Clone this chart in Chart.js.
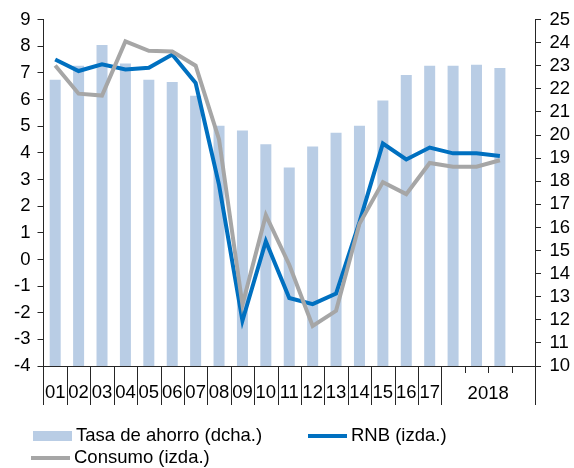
<!doctype html>
<html lang="es">
<head>
<meta charset="utf-8">
<title>Tasa de ahorro, RNB y consumo</title>
<script src="https://cdn.jsdelivr.net/npm/chart.js"></script>
<style>
  html, body { margin: 0; padding: 0; background: #fff; }
  .wrap { position: relative; width: 574px; height: 468px; font-family: "Liberation Sans", Arial, sans-serif; font-size: 18.5px; color: #000; }
  canvas { position: absolute; left: 0; top: 0; }
  .lg { position: absolute; display: flex; align-items: center; white-space: nowrap; line-height: 20px; }
  .lg .box { width: 39px; height: 10px; background: #b9cde5; margin: 2px 4px 0 0; }
  .lg .line { width: 39px; height: 4px; margin: 2px 4px 0 0; }
</style>
</head>
<body>
<div class="wrap">
  <canvas id="chart" width="574" height="468"></canvas>
  <div class="lg" style="left:33px; top:425px;"><span class="box"></span>Tasa de ahorro (dcha.)</div>
  <div class="lg" style="left:308px; top:425px;"><span class="line" style="background:#0070c0"></span>RNB (izda.)</div>
  <div class="lg" style="left:31px; top:447px;"><span class="line" style="background:#a6a6a6"></span>Consumo (izda.)</div>
</div>
<script>
const categories = ['01', '02', '03', '04', '05', '06', '07', '08', '09', '10', '11', '12', '13', '14', '15', '16', '17',
  '2018-I', '2018-II', '2018-III', '2018-IV'];
const tickLabels = ['01', '02', '03', '04', '05', '06', '07', '08', '09', '10', '11', '12', '13', '14', '15', '16', '17',
  '', '', '', ''];
const groupLabel = '2018';
const groupFrom = 17;
const groupTo = 20;

// tasa de ahorro, eje derecho (%)
const tasaAhorro = [22.4, 23.0, 23.9, 23.1, 22.4, 22.3, 21.7, 20.4, 20.2, 19.6, 18.6, 19.5, 20.1, 20.4, 21.5, 22.6, 23.0,
  23.0, 23.05, 22.9, null];
// eje izquierdo (%)
const rnb = [7.5, 7.07, 7.32, 7.13, 7.19, 7.69, 6.62, 2.8, -2.3, 0.68, -1.45, -1.68, -1.28, 1.4, 4.35, 3.75, 4.2,
  3.98, 3.98, 3.88, null];
const consumo = [7.28, 6.22, 6.15, 8.18, 7.83, 7.8, 7.27, 4.5, -1.7, 1.66, -0.2, -2.5, -1.93, 1.34, 2.9, 2.45, 3.62,
  3.48, 3.48, 3.72, null];

const axisColor = '#262626';
const fontFamily = '"Liberation Sans", Arial, sans-serif';
const tickFont = { family: fontFamily, size: 18.5 };

// separadores del eje x y etiqueta del año agrupado
const xAxisDecor = {
  id: 'xAxisDecor',
  afterDraw(chart) {
    const x = chart.scales.x;
    const area = chart.chartArea;
    const ctx = chart.ctx;
    const half = (x.getPixelForValue(1) - x.getPixelForValue(0)) / 2;
    ctx.save();
    ctx.strokeStyle = axisColor;
    ctx.lineWidth = 1;
    for (let i = 0; i <= categories.length; i++) {
      const px = Math.round(x.getPixelForValue(i) - half) + 0.5;
      const inGroup = i > groupFrom && i <= groupTo;
      ctx.beginPath();
      ctx.moveTo(px, area.bottom);
      ctx.lineTo(px, area.bottom + (inGroup ? 7 : 39));
      ctx.stroke();
    }
    ctx.fillStyle = '#000';
    ctx.font = '18.5px ' + fontFamily;
    ctx.textAlign = 'center';
    ctx.textBaseline = 'alphabetic';
    const mid = (x.getPixelForValue(groupFrom) + x.getPixelForValue(groupTo)) / 2;
    ctx.fillText(groupLabel, mid, area.bottom + 33);
    ctx.restore();
  },
};

new Chart(document.getElementById('chart'), {
  type: 'bar',
  plugins: [xAxisDecor],
  data: {
    labels: categories,
    datasets: [
      {
        type: 'line',
        label: 'Consumo (izda.)',
        data: consumo,
        yAxisID: 'y',
        borderColor: '#a6a6a6',
        borderWidth: 4,
        pointRadius: 0,
        tension: 0,
        order: 1,
      },
      {
        type: 'line',
        label: 'RNB (izda.)',
        data: rnb,
        yAxisID: 'y',
        borderColor: '#0070c0',
        borderWidth: 4,
        pointRadius: 0,
        tension: 0,
        order: 2,
      },
      {
        label: 'Tasa de ahorro (dcha.)',
        data: tasaAhorro,
        yAxisID: 'y2',
        backgroundColor: '#b9cde5',
        categoryPercentage: 1,
        barPercentage: 0.47,
        order: 3,
      },
    ],
  },
  options: {
    responsive: false,
    animation: false,
    layout: { padding: { top: 18, left: 0, right: 0, bottom: 0 } },
    plugins: { legend: { display: false }, tooltip: { enabled: false } },
    scales: {
      x: {
        offset: true,
        grid: { display: false, drawTicks: false },
        border: { display: true, color: axisColor, width: 1 },
        ticks: {
          autoSkip: false, maxRotation: 0, padding: 16, color: '#000', font: tickFont,
          callback: (value, index) => tickLabels[index],
        },
        afterFit(scale) { scale.height = 102; },
      },
      y: {
        position: 'left',
        min: -4,
        max: 9,
        ticks: { stepSize: 1, autoSkip: false, padding: 7, color: '#000', font: tickFont },
        grid: { drawOnChartArea: false, tickLength: 6, color: axisColor },
        border: { color: axisColor },
        afterFit(scale) { scale.width = 43.5; },
      },
      y2: {
        position: 'right',
        min: 10,
        max: 25,
        ticks: { stepSize: 1, autoSkip: false, padding: 8.5, color: '#000', font: tickFont },
        grid: { drawOnChartArea: false, tickLength: 6, color: axisColor },
        border: { color: axisColor },
        afterFit(scale) { scale.width = 39; },
      },
    },
  },
});
</script>
</body>
</html>
